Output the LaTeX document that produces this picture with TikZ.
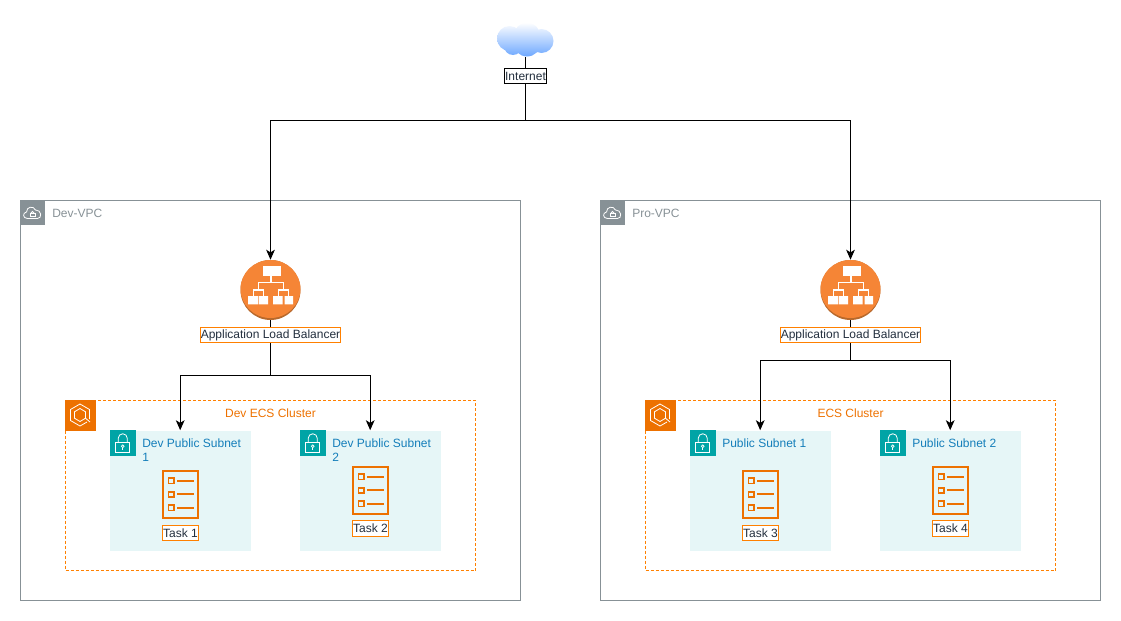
\documentclass[tikz,border=0pt]{standalone}
\usepackage{fontspec}
\setmainfont{Liberation Sans}
\usetikzlibrary{arrows.meta,positioning}
\definecolor{vpcgrey}{HTML}{879196}
\definecolor{awsorange}{HTML}{ED7100}
\definecolor{lblorange}{HTML}{FF8000}
\definecolor{albfill}{HTML}{F58536}
\definecolor{albdark}{HTML}{B8692C}
\definecolor{subfill}{HTML}{E6F6F7}
\definecolor{subteal}{HTML}{00A4A6}
\definecolor{subtext}{HTML}{147EBA}
\definecolor{lbltext}{HTML}{232F3E}
\definecolor{cloudblue}{HTML}{6EA8FF}
\tikzset{
   vpcbox/.style={draw=vpcgrey, line width=.75pt, minimum width=375pt, minimum height=300pt, inner sep=0},
   vpcname/.style={text=vpcgrey, font=\fontsize{9}{10.5}\selectfont, anchor=west, inner sep=0},
   clusterbox/.style={draw=lblorange, line width=.75pt, dash pattern=on 2.25pt off 1.5pt, minimum width=307.5pt, minimum height=127.5pt, inner sep=0},
   clustername/.style={text=awsorange, font=\fontsize{9}{10.5}\selectfont, inner sep=0},
   subbox/.style={fill=subfill, minimum width=105.5pt, minimum height=90pt, inner sep=0},
   subname/.style={text=subtext, font=\fontsize{9}{10.5}\selectfont, anchor=north west, inner sep=0, align=left},
   lbl/.style={fill=white, draw=lblorange, line width=.75pt, text=lbltext, font=\fontsize{9}{10.5}\selectfont, inner sep=0, minimum height=11.5pt},
   albcircle/.style={circle, fill=albdark, minimum size=45pt, inner sep=0},
   wire/.style={draw=black, line width=.75pt},
   wirearrow/.style={wire, -{Stealth[length=7.5pt, width=6.5pt, inset=2pt]}},
   pics/vpcicon/.style={code={
      \fill[vpcgrey] (-12.5,-12.5) rectangle (12.5,12.5);
      \draw[white, line width=.6pt] (-5,6) .. controls (-10,6) and (-10,0) .. (-6,-.5) .. controls (-6,-6) and (1,-7) .. (3,-2.5) .. controls (9,-3) and (10,6) .. (5,6) -- cycle;
      \draw[white, line width=.6pt] (-2.5,.5) rectangle (2.5,4);
      \draw[white, line width=.6pt] (-1.5,.5) arc[start angle=180, end angle=360, radius=1.5];
   }},
   pics/clustericon/.style={code={
      \fill[awsorange] (-15,-15) rectangle (15.5,15.5);
      \draw[white, line width=.6pt] (7,7) -- (0,11) -- (-9.5,5.5) -- (-9.5,-5.5) -- (0,-11) -- (9.5,-5.5) -- (9.5,4);
      \draw[white, line width=.6pt] (0,-6.5) -- (5.5,-3.2) -- (5.5,3.2) -- (0,6.5) -- (-5.5,3.2) -- (-5.5,-3.2) -- cycle;
      \draw[white, line width=.6pt] (5.5,3.2) -- (10,7);
   }},
   pics/lockicon/.style={code={
      \fill[subteal] (-12.75,-12.75) rectangle (12.75,12.75);
      \draw[white, line width=.6pt] (-7,-.5) rectangle (7,10);
      \draw[white, line width=.6pt] (-4.5,-.5) -- (-4.5,-4.5) arc[start angle=180, end angle=360, radius=4.5] -- (4.5,-.5);
      \draw[white, line width=.5pt] (0,3.5) circle (1.3);
      \draw[white, line width=.5pt] (0,4.8) -- (0,7.5);
   }},
   pics/taskicon/.style={code={
      \draw[awsorange, line width=1.6pt] (-17.5,-23.5) rectangle (17.5,23.5);
      \foreach \ry in {-13.5,0,13.5}{
         \draw[awsorange, line width=1.4pt] (-12,\ry-2.7) rectangle (-6.5,\ry+2.7);
         \draw[awsorange, line width=1.4pt] (-3.5,\ry) -- (13,\ry);
      }
   }},
   pics/albicon/.style={code={
      \fill[albfill] (0,-1) ellipse (30 and 29);
      \fill[white] (-8,-24.3) rectangle (10,-14);
      \draw[white, line width=.9pt] (.5,-14) -- (.5,-7.5) (-12.3,0) -- (-12.3,-7.5) -- (13.3,-7.5) -- (13.3,0) (-17.3,6) -- (-17.3,0) -- (-6.7,0) -- (-6.7,6) (8.3,6) -- (8.3,0) -- (18.3,0) -- (18.3,6);
      \fill[white] (-22.3,6) rectangle (-12.3,14.3) (-11.7,6) rectangle (-2.3,14.3) (2.7,6) rectangle (12,14.3) (14,6) rectangle (22.7,14.3);
   }},
}
\begin{document}
\begin{tikzpicture}[x=.75pt, y=-.75pt]
   \useasboundingbox (0,0) rectangle (1121,621);

   % internet
   \shade[top color=white, bottom color=cloudblue] (527,43) circle (13.5) (527,35.5) circle (13) (509.5,38.5) circle (12.5) (541.5,41) circle (12) (513,46) circle (9);
   \node[minimum width=42pt, minimum height=26pt, inner sep=0] (cloud) at (525.5,39.5) {};
   \node[fill=white, draw=black, line width=.75pt, text=lbltext, font=\fontsize{9}{10.5}\selectfont, inner sep=0, minimum width=31.5pt, minimum height=11pt] (internet) at (525.5,76) {Internet};
   \coordinate (top) at (525.5,120.5);

   % vpcs
   \node[vpcbox] (devvpc) at (270.5,400.5) {};
   \pic at (32.5,212.5) {vpcicon};
   \node[vpcname] (devname) at (52,213.5) {Dev-VPC};
   \node[vpcbox] (provpc) at (850.5,400.5) {};
   \pic at (612.5,212.5) {vpcicon};
   \node[vpcname] (proname) at (632,213.5) {Pro-VPC};

   % clusters
   \node[clusterbox] (devcluster) at (270.5,485.5) {};
   \pic at (80,415) {clustericon};
   \node[clustername] (devclname) at (270.5,413.5) {Dev ECS Cluster};
   \node[clusterbox] (procluster) at (850.5,485.5) {};
   \pic at (660,415) {clustericon};
   \node[clustername] (proclname) at (850.5,413.5) {ECS Cluster};

   % subnets
   \node[subbox] (sub1) at (180.2,490.5) {};
   \node[subbox] (sub2) at (370.2,490.5) {};
   \node[subbox] (sub3) at (760.2,490.5) {};
   \node[subbox] (sub4) at (950.2,490.5) {};
   \pic at (122.75,442.75) {lockicon};
   \pic at (312.75,442.75) {lockicon};
   \pic at (702.75,442.75) {lockicon};
   \pic at (892.75,442.75) {lockicon};
   \node[subname] (sub1name) at (142,438.5) {Dev Public Subnet\\1};
   \node[subname] (sub2name) at (332,438.5) {Dev Public Subnet\\2};
   \node[subname] (sub3name) at (722,438.5) {Public Subnet 1};
   \node[subname] (sub4name) at (912,438.5) {Public Subnet 2};

   % tasks
   \pic at (180.5,494.3) {taskicon};
   \pic at (370.5,490.3) {taskicon};
   \pic at (760.5,494.3) {taskicon};
   \pic at (950.5,490.3) {taskicon};
   \node[lbl, minimum width=27pt] (task1) at (180.5,533) {Task 1};
   \node[lbl, minimum width=27pt] (task2) at (370.5,528.5) {Task 2};
   \node[lbl, minimum width=27pt] (task3) at (760.5,533) {Task 3};
   \node[lbl, minimum width=27pt] (task4) at (950.5,528.5) {Task 4};

   % load balancers
   \node[albcircle] (alb1) at (270.5,290) {};
   \pic at (270.5,290) {albicon};
   \node[albcircle] (alb2) at (850.5,290) {};
   \pic at (850.5,290) {albicon};
   \node[lbl, minimum width=105.5pt] (alb1lbl) at (270.5,335) {Application Load Balancer};
   \node[lbl, minimum width=105.5pt] (alb2lbl) at (850.5,335) {Application Load Balancer};
   \coordinate (split1) at (270.5,375.5);
   \coordinate (split2) at (850.5,360.5);

   % connectors
   \draw[wire] (cloud) -- (internet);
   \draw[wire] (internet) -- (top);
   \draw[wirearrow] (top) -| (alb1.north);
   \draw[wirearrow] (top) -| (alb2.north);
   \draw[wire] (alb1) -- (alb1lbl);
   \draw[wire] (alb2) -- (alb2lbl);
   \draw[wire] (alb1lbl) -- (split1);
   \draw[wire] (alb2lbl) -- (split2);
   \draw[wirearrow] (split1) -| (sub1.north);
   \draw[wirearrow] (split1) -| (sub2.north);
   \draw[wirearrow] (split2) -| (sub3.north);
   \draw[wirearrow] (split2) -| (sub4.north);

 \end{tikzpicture}
\end{document}
